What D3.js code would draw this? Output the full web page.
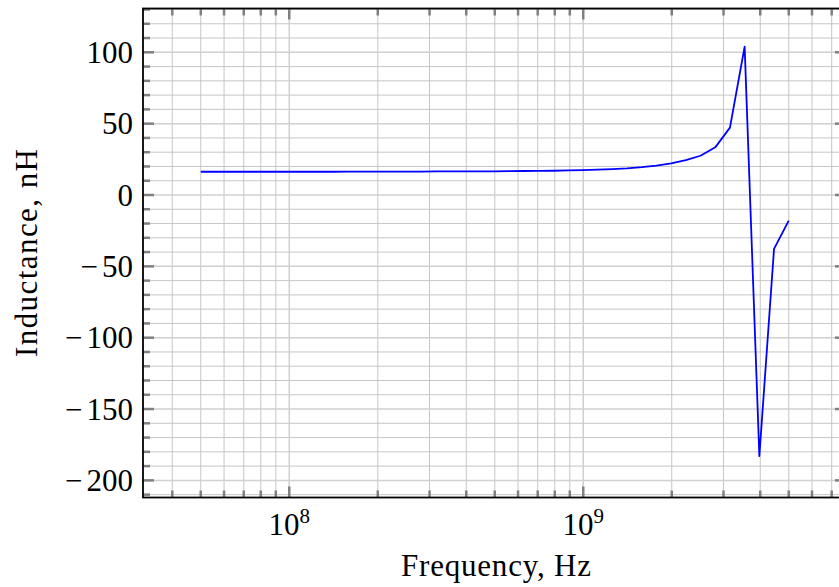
<!DOCTYPE html>
<html><head><meta charset="utf-8">
<script src="https://cdn.jsdelivr.net/npm/d3@7"></script>
<style>body{margin:0;background:#fff}</style>
</head><body>
<svg id="chart" width="839" height="587"></svg>
<script>
// Data (frequency in Hz, inductance in nH)
const frequency = [5.000e7,5.610e7,6.295e7,7.063e7,7.924e7,8.891e7,9.976e7,1.119e8,1.256e8,1.409e8,
  1.581e8,1.774e8,1.991e8,2.233e8,2.506e8,2.812e8,3.155e8,3.540e8,3.972e8,4.456e8,
  5.000e8,5.610e8,6.295e8,7.063e8,7.924e8,8.891e8,9.976e8,1.119e9,1.256e9,1.409e9,
  1.581e9,1.774e9,1.991e9,2.233e9,2.506e9,2.812e9,3.155e9,3.540e9,3.972e9,4.456e9,5.000e9];
const inductance = [16.3,16.3,16.3,16.3,16.3,16.3,16.3,16.3,16.3,16.3,
  16.4,16.4,16.4,16.4,16.4,16.4,16.5,16.5,16.5,16.6,
  16.6,16.7,16.8,16.9,17.0,17.2,17.5,17.8,18.2,18.7,
  19.5,20.6,22.2,24.4,27.5,33.4,47.2,104.0,-183.0,-37.8,-18.0];
const xMajorTicks = [1e8, 1e9];
const xMajorExp = ["8", "9"];
const yMajorTicks = [-200, -150, -100, -50, 0, 50, 100];
const xLabel = "Frequency, Hz";
const yLabel = "Inductance, nH";

const svg = d3.select("#chart");
const L = 143, T = 8.5, R = 846, B = 497.5;
const x = d3.scaleLog().domain([3.18e7, 7.83e9]).range([L, R]);
const y = d3.scaleLinear().domain([-212, 130.7]).range([B, T]);

const xMinor = [];
for (let e = 7; e <= 9; e++) for (let k = 2; k <= 9; k++) {
  const v = k * Math.pow(10, e);
  if (v > x.domain()[0] && v < x.domain()[1]) xMinor.push(v);
}
const yMinor = d3.range(-210, 131, 10).filter(v => v % 50 !== 0);

svg.append("defs").append("clipPath").attr("id","clip")
  .append("rect").attr("x",L).attr("y",T).attr("width",R-L).attr("height",B-T);

const grid = svg.append("g").attr("clip-path","url(#clip)");
grid.selectAll(".gxm").data(xMinor).join("line")
  .attr("x1",d=>x(d)).attr("x2",d=>x(d)).attr("y1",T).attr("y2",B)
  .attr("stroke","#bfbfbf").attr("stroke-width",0.9);
grid.selectAll(".gym").data(yMinor).join("line")
  .attr("y1",d=>y(d)).attr("y2",d=>y(d)).attr("x1",L).attr("x2",R)
  .attr("stroke","#bfbfbf").attr("stroke-width",0.9);
grid.selectAll(".gxM").data(xMajorTicks).join("line")
  .attr("x1",d=>x(d)).attr("x2",d=>x(d)).attr("y1",T).attr("y2",B)
  .attr("stroke","#d0d0d0").attr("stroke-width",1.5);
grid.selectAll(".gyM").data(yMajorTicks).join("line")
  .attr("y1",d=>y(d)).attr("y2",d=>y(d)).attr("x1",L).attr("x2",R)
  .attr("stroke","#d0d0d0").attr("stroke-width",1.5);

const pts = frequency.map((f,i)=>[f, inductance[i]]);
svg.append("g").attr("clip-path","url(#clip)").append("path")
  .datum(pts)
  .attr("d", d3.line().x(d=>x(d[0])).y(d=>y(d[1])))
  .attr("fill","none").attr("stroke","#0000ff").attr("stroke-width",1.8)
  .attr("stroke-linejoin","round");

// ticks (inward, all sides)
const tk = svg.append("g").attr("stroke","#808080").attr("stroke-width",2.5);
function xt(vals, len){
  vals.forEach(v=>{
    tk.append("line").attr("x1",x(v)).attr("x2",x(v)).attr("y1",B).attr("y2",B-len);
    tk.append("line").attr("x1",x(v)).attr("x2",x(v)).attr("y1",T).attr("y2",T+len);
  });
}
function yt(vals, len){
  vals.forEach(v=>{
    tk.append("line").attr("y1",y(v)).attr("y2",y(v)).attr("x1",L).attr("x2",L+len);
    tk.append("line").attr("y1",y(v)).attr("y2",y(v)).attr("x1",R).attr("x2",R-len);
  });
}
xt(xMinor, 7); xt(xMajorTicks, 11);
yt(yMinor, 7); yt(yMajorTicks, 11);

// spines
svg.append("rect").attr("x",L).attr("y",T).attr("width",R-L).attr("height",B-T)
  .attr("fill","none").attr("stroke","#000").attr("stroke-width",1.8);

const font = "'Liberation Serif', 'DejaVu Serif', serif";
// y tick labels
const yl = svg.append("g").selectAll("text").data(yMajorTicks).join("text")
  .attr("x", 133).attr("y", d=>y(d)).attr("dy","0.34em")
  .attr("text-anchor","end").attr("font-family",font).attr("font-size",31);
yl.filter(d=>d<0).append("tspan").text("\u2212");
yl.append("tspan").attr("dx", d=> d<0 ? 4 : 0).text(d => String(Math.abs(d)));
// x tick labels
const xl = svg.append("g").selectAll("text").data(xMajorTicks).join("text")
  .attr("x", d=>x(d)).attr("y", 535)
  .attr("text-anchor","middle").attr("font-family",font).attr("font-size",31);
xl.append("tspan").text("10");
xl.append("tspan").attr("dy",-12).attr("font-size",21).text((d,i)=>xMajorExp[i]);

svg.append("text").attr("x",496).attr("y",576).attr("text-anchor","middle")
  .attr("font-family",font).attr("font-size",31)
  .attr("textLength",190).attr("lengthAdjust","spacing").text(xLabel);
svg.append("text").attr("transform","translate(37,253) rotate(-90)")
  .attr("text-anchor","middle").attr("font-family",font).attr("font-size",31)
  .attr("textLength",208).attr("lengthAdjust","spacing").text(yLabel);
</script>
</body></html>
